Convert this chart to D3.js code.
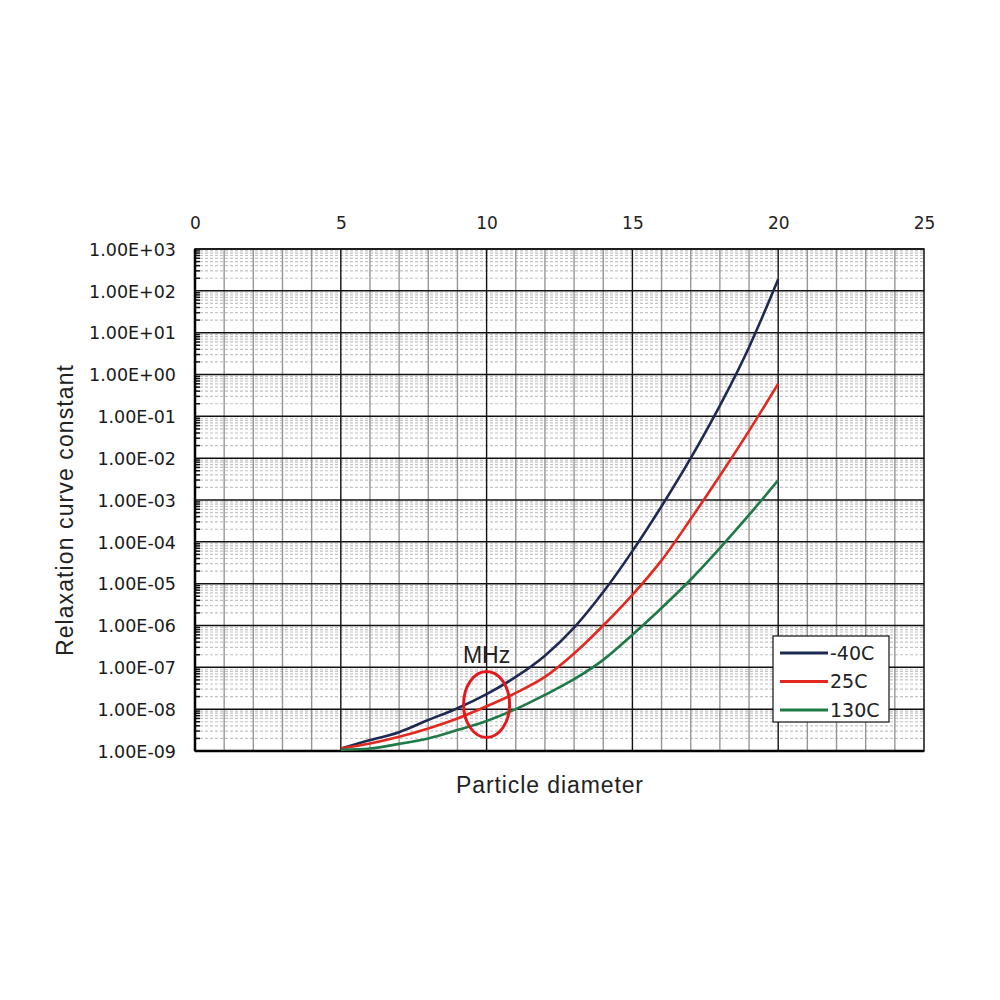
<!DOCTYPE html>
<html><head><meta charset="utf-8">
<script src="https://cdn.jsdelivr.net/npm/d3@7"></script>
<style>body{margin:0;background:#fff}svg{display:block}</style>
</head><body>
<svg id="chart" width="1000" height="1000"></svg>
<script>
const diameters = [5,6,7,8,9,10,11,12,13,14,15,16,17,18,19,20];
const seriesNames = ["-40C","25C","130C"];
const valuesMinus40 = [1.15e-9,1.82e-9,2.82e-9,5.5e-9,1.05e-8,2.29e-8,5.9e-8,1.9e-7,8.9e-7,6.3e-6,6.0e-5,7.1e-4,1.0e-2,1.8e-1,4.5,190];
const values25 = [1.15e-9,1.51e-9,2.19e-9,3.47e-9,6.0e-9,1.17e-8,2.45e-8,5.9e-8,2.14e-7,1.0e-6,5.4e-6,3.6e-5,3.5e-4,3.8e-3,4.5e-2,0.60];
const values130 = [1.07e-9,1.15e-9,1.48e-9,2.0e-9,3.16e-9,5.2e-9,1.0e-8,2.19e-8,5.2e-8,1.51e-7,6.0e-7,2.63e-6,1.26e-5,7.1e-5,4.4e-4,2.95e-3];
const xTickValues = [0,5,10,15,20,25];
const yTickValues = [1e3,1e2,1e1,1e0,1e-1,1e-2,1e-3,1e-4,1e-5,1e-6,1e-7,1e-8,1e-9];
const yTickLabels = ["1.00E+03","1.00E+02","1.00E+01","1.00E+00","1.00E-01","1.00E-02","1.00E-03","1.00E-04","1.00E-05","1.00E-06","1.00E-07","1.00E-08","1.00E-09"];
const colors = ["#1e2a52","#e2291f","#1f7a48"];
const annotationLabel = "MHz";
const annotationX = 10;
const annotationY = 1.3e-8;

const svg = d3.select("#chart");
const L = 195, R = 924, T = 249, B = 751;
const x = d3.scaleLinear().domain([0,25]).range([L,R]);
const y = d3.scaleLog().domain([1e-9,1e3]).range([B,T]);
const font = "'Liberation Sans', Arial, sans-serif";
const tickFont = "'DejaVu Sans', sans-serif";

const g = svg.append("g");
// minor horizontal dashed grid
const minor = [];
for (let e=-9;e<3;e++) for (let m=2;m<=9;m++) minor.push(m*Math.pow(10,e));
g.selectAll(".hminor").data(minor).enter().append("line")
  .attr("x1",L).attr("x2",R).attr("y1",d=>y(d)).attr("y2",d=>y(d))
  .attr("stroke","#c4c4c4").attr("stroke-width",1.2).attr("stroke-dasharray","3,2");
// vertical grid every unit
const xs = d3.range(1,25);
g.selectAll(".vgrid").data(xs).enter().append("line")
  .attr("x1",d=>x(d)).attr("x2",d=>x(d)).attr("y1",T).attr("y2",B)
  .attr("stroke",d=>d%5===0?"#111":"#9a9590").attr("stroke-width",1.4);
// decade lines
g.selectAll(".hmajor").data(yTickValues).enter().append("line")
  .attr("x1",L).attr("x2",R).attr("y1",d=>y(d)).attr("y2",d=>y(d))
  .attr("stroke","#111").attr("stroke-width",1.5);
// minor ticks on left axis
g.selectAll(".mtick").data(minor).enter().append("line")
  .attr("x1",L).attr("x2",L+5).attr("y1",d=>y(d)).attr("y2",d=>y(d))
  .attr("stroke","#111").attr("stroke-width",1.5);
// frame
g.append("rect").attr("x",L).attr("y",T).attr("width",R-L).attr("height",B-T)
  .attr("fill","none").attr("stroke","#111").attr("stroke-width",1.5);
g.append("line").attr("x1",L).attr("x2",L).attr("y1",T).attr("y2",B).attr("stroke","#000").attr("stroke-width",2.5);
g.append("line").attr("x1",L).attr("x2",R).attr("y1",B).attr("y2",B).attr("stroke","#000").attr("stroke-width",2.5);

// top axis labels
const xAxis = d3.axisTop(x).tickValues(xTickValues).tickSize(0).tickPadding(0).tickFormat(d3.format("d"));
const xa = svg.append("g").attr("transform",`translate(0,${T-20})`).call(xAxis);
xa.select(".domain").remove();
xa.selectAll("text").attr("font-family",tickFont).attr("font-size",17).attr("fill","#222").attr("dy","0");
// left axis labels
const yAxis = d3.axisLeft(y).tickValues(yTickValues).tickSize(0).tickPadding(0)
  .tickFormat((d,i)=>yTickLabels[i]);
const ya = svg.append("g").attr("transform",`translate(176,0)`).call(yAxis);
ya.select(".domain").remove();
ya.selectAll("text").attr("font-family",tickFont).attr("font-size",17.5).attr("fill","#1a1a1a").attr("dy","0.36em");

// curves
const series = [valuesMinus40, values25, values130];
const line = d3.line().x((d,i)=>x(diameters[i])).y(d=>y(d)).curve(d3.curveMonotoneX);
svg.selectAll(".curve").data(series).enter().append("path")
  .attr("d",d=>line(d)).attr("fill","none")
  .attr("stroke",(d,i)=>colors[i]).attr("stroke-width",2.6);

// annotation
const cx = x(annotationX), cy = y(annotationY);
svg.append("ellipse").attr("cx",cx).attr("cy",cy).attr("rx",23).attr("ry",33)
  .attr("fill","none").attr("stroke","#e3191e").attr("stroke-width",3);
svg.append("text").attr("x",cx).attr("y",cy-41).attr("text-anchor","middle")
  .attr("font-family",font).attr("font-size",23).attr("fill","#222").text(annotationLabel);

// legend
const lg = svg.append("g");
lg.append("rect").attr("x",773).attr("y",636).attr("width",116).attr("height",86)
  .attr("fill","#fff").attr("stroke","#111").attr("stroke-width",1.2);
seriesNames.forEach((n,i)=>{
  const ly = 653 + i*28.5;
  lg.append("line").attr("x1",780).attr("x2",828).attr("y1",ly).attr("y2",ly)
    .attr("stroke",colors[i]).attr("stroke-width",3);
  lg.append("text").attr("x",830).attr("y",ly).attr("dy","0.36em")
    .attr("font-family",tickFont).attr("font-size",19).attr("fill","#222").text(n);
});

// axis titles
svg.append("text").attr("x",550).attr("y",793).attr("text-anchor","middle")
  .attr("font-family",font).attr("font-size",23).attr("letter-spacing",0.9).attr("fill","#222").text("Particle diameter");
svg.append("text").attr("transform","translate(73,510) rotate(-90)").attr("text-anchor","middle")
  .attr("font-family",font).attr("font-size",23).attr("letter-spacing",1.1).attr("fill","#222").text("Relaxation curve constant");
</script>
</body></html>
